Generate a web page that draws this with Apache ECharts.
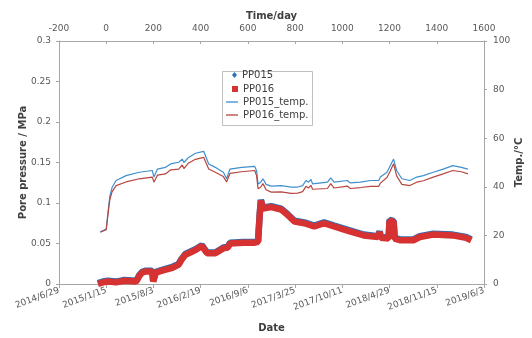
<!DOCTYPE html>
<html>
<head>
<meta charset="utf-8">
<script src="https://cdn.jsdelivr.net/npm/echarts@6/dist/echarts.min.js"></script>
<style>
  html, body { margin: 0; padding: 0; background: #fff; }
  #chart { width: 532px; height: 338px; }
</style>
</head>
<body>
<div id="chart"></div>
<script>
// Day ticks (days since 2015/1/15) and the matching calendar dates
const dayTicks = [-200, 0, 200, 400, 600, 800, 1000, 1200, 1400, 1600];
const dateLabels = ['2014/6/29', '2015/1/15', '2015/8/3', '2016/2/19', '2016/9/6',
  '2017/3/25', '2017/10/11', '2018/4/29', '2018/11/15', '2019/6/3'];

// Pore pressure records (MPa)
const pressureDays = [-35, -14, 7, 42, 77, 126, 133, 140, 152, 168, 195, 199, 205, 210, 244, 280,
  307, 319, 335, 378, 405, 412, 427, 462, 496, 515, 524, 580, 629, 643, 650, 655, 664, 681,
  699, 741, 769, 798, 839, 881, 923, 965, 1021, 1091, 1151, 1158, 1163, 1196, 1200, 1217,
  1222, 1244, 1301, 1328, 1385, 1468, 1524, 1546];
const pp015 = [0.001, 0.003, 0.004, 0.003, 0.005, 0.004, 0.007, 0.011, 0.015, 0.0165, 0.0165, 0.004, 0.004, 0.015, 0.018, 0.021,
  0.025, 0.031, 0.037, 0.043, 0.048, 0.046, 0.039, 0.039, 0.045, 0.046, 0.051, 0.052, 0.052, 0.053, 0.086, 0.104, 0.094, 0.095,
  0.096, 0.093, 0.086, 0.078, 0.076, 0.072, 0.076, 0.072, 0.067, 0.061, 0.059, 0.065, 0.058, 0.057, 0.079, 0.078,
  0.057, 0.055, 0.055, 0.059, 0.062, 0.061, 0.058, 0.055];
const pp016 = [0.000, 0.002, 0.003, 0.002, 0.004, 0.003, 0.006, 0.010, 0.014, 0.0155, 0.0155, 0.003, 0.003, 0.014, 0.017, 0.020,
  0.024, 0.030, 0.036, 0.042, 0.047, 0.045, 0.038, 0.038, 0.044, 0.045, 0.050, 0.051, 0.051, 0.052, 0.085, 0.103, 0.093, 0.094,
  0.095, 0.092, 0.085, 0.077, 0.075, 0.071, 0.075, 0.071, 0.066, 0.060, 0.058, 0.064, 0.057, 0.056, 0.078, 0.077,
  0.056, 0.054, 0.054, 0.058, 0.061, 0.060, 0.057, 0.054];

// Temperature records (°C)
const tempDays = [-25, 0, 8, 15, 25, 42, 84, 140, 195, 202, 217, 251, 273, 307, 322, 329, 349, 378, 413, 434,
  462, 496, 510, 524, 574, 629, 637, 643, 654, 664, 677, 699, 741, 783, 811, 832, 846, 857, 867, 874,
  937, 951, 965, 1021, 1034, 1077, 1119, 1154, 1161, 1189, 1203, 1217, 1230, 1252, 1286, 1315, 1343,
  1385, 1427, 1468, 1504, 1532];
const pp015Temp = [21.5, 22.6, 30, 36, 39.8, 42.6, 44.6, 46, 46.7, 44, 47.3, 48, 49.4, 50.1, 51.4, 50, 52.1, 53.8, 54.6, 49.4,
  48, 46, 43.3, 47.3, 48, 48.4, 46.5, 41.2, 41.8, 43.3, 41, 40.3, 40.5, 39.9, 39.9, 40.5, 42.6, 41.9, 43, 41.2,
  41.9, 43.7, 41.9, 42.6, 41.6, 41.9, 42.6, 42.6, 44, 46, 48.7, 51.4, 46.7, 43.3, 42.6, 44, 44.6,
  46, 47.3, 48.7, 48, 47.3];
const pp016Temp = [21.3, 22.3, 29, 34.5, 38, 40.5, 42, 43.3, 44, 41.9, 44.8, 45.3, 47, 47.3, 49, 47.5, 49.8, 51.3, 52.1, 47.3,
  46, 44.2, 42, 45.5, 46.2, 46.7, 44.5, 39.2, 39.8, 41.3, 38.8, 37.8, 37.9, 37.3, 37.4, 38, 40.2, 39.5, 40.6, 39,
  39.3, 41.3, 39.5, 40.3, 39.3, 39.7, 40.2, 40.2, 41.5, 43.8, 46.5, 49.5, 44.5, 41, 40.5, 41.9, 42.5,
  44, 45.3, 46.7, 46.2, 45.3];

const zip = (xs, ys) => xs.map((x, i) => [x, ys[i]]);

const FONT = 'DejaVu Sans';
const axisGray = '#a6a6a6';
const labelCol = '#595959';
const nameCol = '#404040';

const chart = echarts.init(document.getElementById('chart'), null, { renderer: 'canvas' });

const legendText = { fontFamily: FONT, fontSize: 10, color: '#404040' };
function legendItem(name, top, left, icon, w, h) {
  return {
    data: [{ name: name, icon: icon }],
    orient: 'vertical', left: left, top: top,
    itemWidth: w, itemHeight: h, itemGap: 0,
    padding: 0, textStyle: legendText, selectedMode: false
  };
}

chart.setOption({
  animation: false,
  backgroundColor: '#fff',
  textStyle: { fontFamily: FONT },
  grid: { left: 59, right: 44, top: 41, bottom: 52, containLabel: false },
  graphic: [{
    type: 'rect', left: 222, top: 71, z: 1,
    shape: { width: 90, height: 54 },
    style: { fill: '#fff', stroke: '#bfbfbf', lineWidth: 1 }
  }],
  legend: [
    legendItem('PP015', 70, 232, 'diamond', 5, 6),
    legendItem('PP016', 84, 232, 'rect', 6, 6),
    legendItem('PP015_temp.', 97, 226, 'rect', 12, 1.3),
    legendItem('PP016_temp.', 110, 226, 'rect', 12, 1.3)
  ],
  xAxis: [{
    type: 'value', position: 'bottom', min: -200, max: 1600, interval: 200,
    name: 'Date', nameLocation: 'middle', nameGap: 39, nameMoveOverlap: false,
    nameTextStyle: { fontFamily: FONT, fontSize: 10, fontWeight: 'bold', color: nameCol },
    axisLine: { show: true, onZero: false, lineStyle: { color: axisGray } },
    axisTick: { show: true, length: 4, lineStyle: { color: axisGray } },
    splitLine: { show: false },
    axisLabel: {
      rotate: 20, margin: 6, fontFamily: FONT, fontSize: 9, color: labelCol,
      formatter: v => dateLabels[dayTicks.indexOf(v)] || ''
    }
  }, {
    type: 'value', position: 'top', min: -200, max: 1600, interval: 200,
    name: 'Time/day', nameLocation: 'middle', nameGap: 20, nameMoveOverlap: false,
    nameTextStyle: { fontFamily: FONT, fontSize: 10, fontWeight: 'bold', color: nameCol },
    axisLine: { show: true, onZero: false, lineStyle: { color: axisGray } },
    axisTick: { show: true, length: 3, inside: true, lineStyle: { color: axisGray } },
    splitLine: { show: false },
    axisLabel: { margin: 8, fontFamily: FONT, fontSize: 9, color: labelCol, formatter: v => String(v) }
  }],
  yAxis: [{
    type: 'value', position: 'left', min: 0, max: 0.3, interval: 0.05,
    name: 'Pore pressure / MPa', nameLocation: 'middle', nameGap: 31, nameMoveOverlap: false,
    nameTextStyle: { fontFamily: FONT, fontSize: 10, fontWeight: 'bold', color: nameCol },
    axisLine: { show: true, onZero: false, lineStyle: { color: axisGray } },
    axisTick: { show: true, length: 3, lineStyle: { color: axisGray } },
    splitLine: { show: false },
    axisLabel: { margin: 8, fontFamily: FONT, fontSize: 9, color: labelCol }
  }, {
    type: 'value', position: 'right', min: 0, max: 100, interval: 20,
    name: 'Temp./°C', nameLocation: 'middle', nameGap: 30, nameMoveOverlap: false,
    nameRotate: 90,
    nameTextStyle: { fontFamily: FONT, fontSize: 10, fontWeight: 'bold', color: nameCol },
    axisLine: { show: true, onZero: false, lineStyle: { color: axisGray } },
    axisTick: { show: true, length: 3, lineStyle: { color: axisGray } },
    splitLine: { show: false },
    axisLabel: { margin: 9, fontFamily: FONT, fontSize: 9, color: labelCol }
  }],
  series: [{
    name: 'PP015', type: 'line', xAxisIndex: 0, yAxisIndex: 0,
    data: zip(pressureDays, pp015),
    symbol: 'diamond', symbolSize: 6, showSymbol: false,
    itemStyle: { color: '#2f6fb5' },
    lineStyle: { color: '#2f6fb5', width: 6.5, join: 'bevel' }
  }, {
    name: 'PP016', type: 'line', xAxisIndex: 0, yAxisIndex: 0,
    data: zip(pressureDays, pp016),
    symbol: 'rect', symbolSize: 6, showSymbol: false,
    itemStyle: { color: '#d63232' },
    lineStyle: { color: '#d63232', width: 6.5, join: 'bevel' }
  }, {
    name: 'PP015_temp.', type: 'line', xAxisIndex: 0, yAxisIndex: 1,
    data: zip(tempDays, pp015Temp),
    symbol: 'none',
    itemStyle: { color: '#3f8fcf' },
    lineStyle: { color: '#3f8fcf', width: 1.2 }
  }, {
    name: 'PP016_temp.', type: 'line', xAxisIndex: 0, yAxisIndex: 1,
    data: zip(tempDays, pp016Temp),
    symbol: 'none',
    itemStyle: { color: '#b7463f' },
    lineStyle: { color: '#b7463f', width: 1.2 }
  }]
});
</script>
</body>
</html>
